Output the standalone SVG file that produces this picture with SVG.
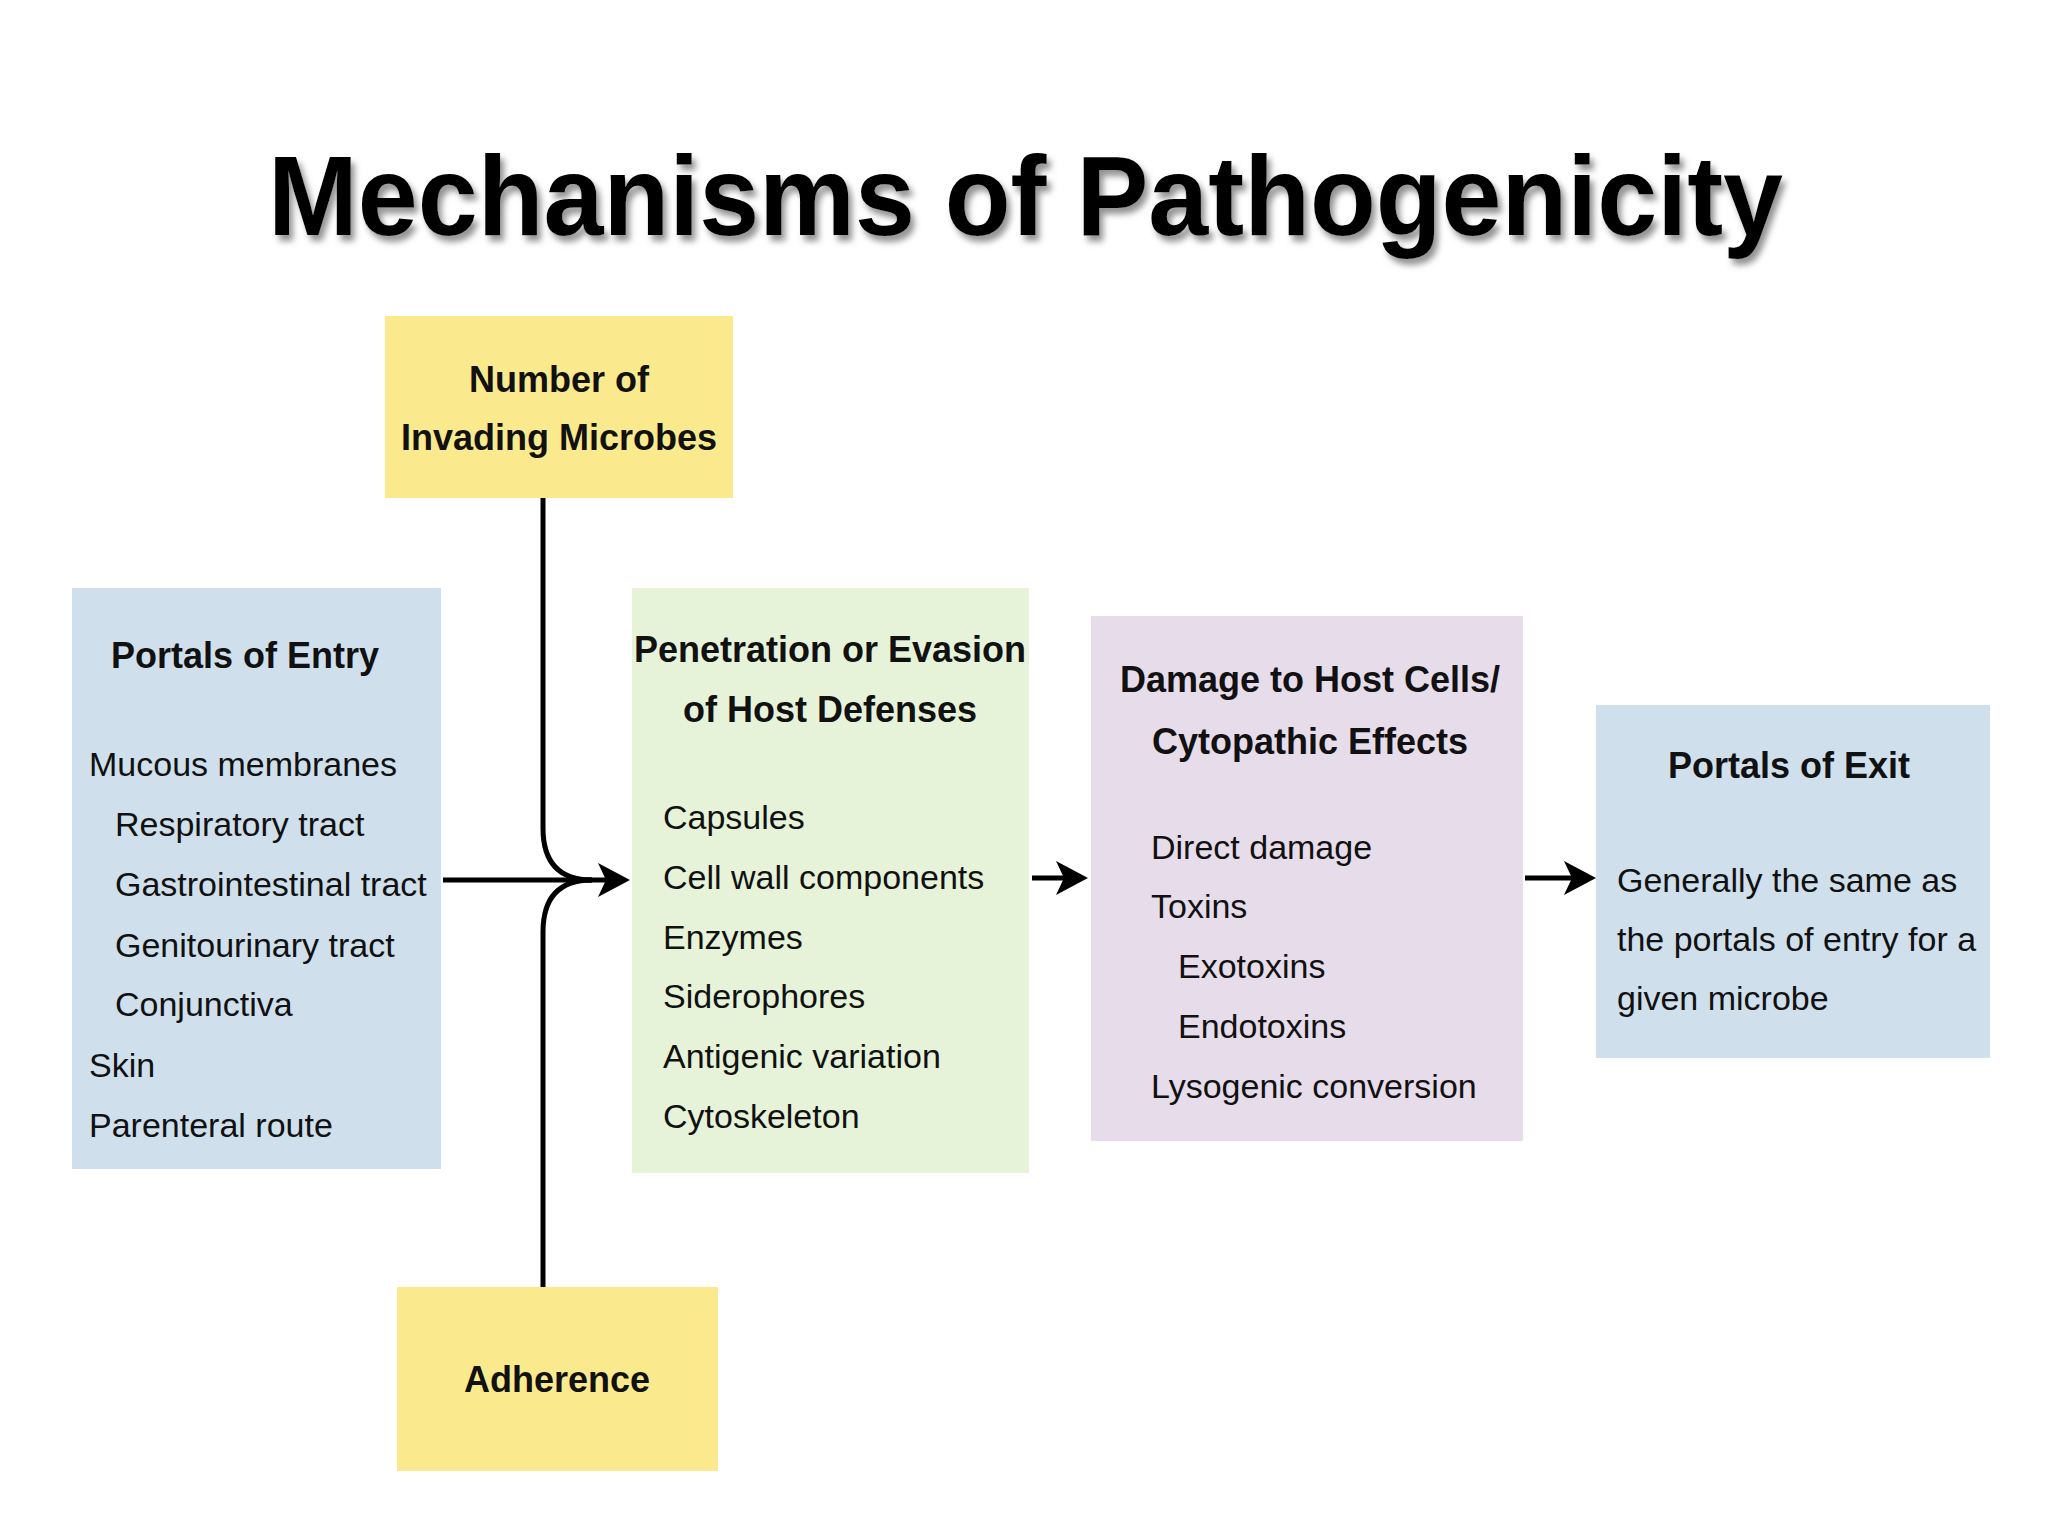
<svg xmlns="http://www.w3.org/2000/svg" width="2048" height="1536" viewBox="0 0 2048 1536">
  <style>
    .title { font-family: "Liberation Sans", Arial, sans-serif; font-weight: bold; font-size: 113px; fill: #000; }
    .hd { font-family: "Liberation Sans", Arial, sans-serif; font-weight: bold; font-size: 36px; fill: #111; text-anchor: middle; }
    .bd { font-family: "Liberation Sans", Arial, sans-serif; font-size: 34px; fill: #111; }
    .conn { fill: none; stroke: #000; stroke-width: 5; }
    .yellow { fill: #fbe98e; }
    .blue { fill: #cfe0ec; }
    .green { fill: #e6f3d9; }
    .purple { fill: #e6dcea; }
  </style>
  <defs>
    <filter id="shadow" x="-5%" y="-20%" width="110%" height="150%">
      <feDropShadow dx="4" dy="6" stdDeviation="3" flood-color="#777" flood-opacity="0.8"/>
    </filter>
    <marker id="arrow" markerUnits="userSpaceOnUse" markerWidth="36" markerHeight="36" refX="22" refY="17" orient="auto">
      <path d="M0,0 L32,17 L0,34 L8,17 Z" fill="#000"/>
    </marker>
  </defs>

  <rect x="0" y="0" width="2048" height="1536" fill="#ffffff"/>

  <text class="title" x="268" y="235" textLength="1515" lengthAdjust="spacingAndGlyphs" filter="url(#shadow)">Mechanisms of Pathogenicity</text>

  <g id="connectors">
    <path class="conn" d="M543,498 L543,828 Q543,880 592,880"/>
    <path class="conn" d="M592,880 Q543,880 543,932 L543,1287"/>
    <path class="conn" d="M443,880 L620,880" stroke-width="6" marker-end="url(#arrow)"/>
    <path class="conn" d="M1032,878 L1078,878" stroke-width="6" marker-end="url(#arrow)"/>
    <path class="conn" d="M1525,878 L1586,878" stroke-width="6" marker-end="url(#arrow)"/>
  </g>

  <g id="number-of-microbes">
    <rect class="yellow" x="385" y="316" width="348" height="182"/>
    <text class="hd" x="559" y="392">Number of</text>
    <text class="hd" x="559" y="450">Invading Microbes</text>
  </g>

  <g id="adherence">
    <rect class="yellow" x="397" y="1287" width="321" height="184"/>
    <text class="hd" x="557" y="1392">Adherence</text>
  </g>

  <g id="portals-of-entry">
    <rect class="blue" x="72" y="588" width="369" height="581"/>
    <text class="hd" x="245" y="668">Portals of Entry</text>
    <text class="bd" x="89" y="776">Mucous membranes</text>
    <text class="bd" x="115" y="836">Respiratory tract</text>
    <text class="bd" x="115" y="896">Gastrointestinal tract</text>
    <text class="bd" x="115" y="957">Genitourinary tract</text>
    <text class="bd" x="115" y="1016">Conjunctiva</text>
    <text class="bd" x="89" y="1077">Skin</text>
    <text class="bd" x="89" y="1137">Parenteral route</text>
  </g>

  <g id="penetration">
    <rect class="green" x="632" y="588" width="397" height="585"/>
    <text class="hd" x="830" y="662">Penetration or Evasion</text>
    <text class="hd" x="830" y="722">of Host Defenses</text>
    <text class="bd" x="663" y="829">Capsules</text>
    <text class="bd" x="663" y="889">Cell wall components</text>
    <text class="bd" x="663" y="949">Enzymes</text>
    <text class="bd" x="663" y="1008">Siderophores</text>
    <text class="bd" x="663" y="1068">Antigenic variation</text>
    <text class="bd" x="663" y="1128">Cytoskeleton</text>
  </g>

  <g id="damage">
    <rect class="purple" x="1091" y="616" width="432" height="525"/>
    <text class="hd" x="1310" y="692">Damage to Host Cells/</text>
    <text class="hd" x="1310" y="754">Cytopathic Effects</text>
    <text class="bd" x="1151" y="859">Direct damage</text>
    <text class="bd" x="1151" y="918">Toxins</text>
    <text class="bd" x="1178" y="978">Exotoxins</text>
    <text class="bd" x="1178" y="1038">Endotoxins</text>
    <text class="bd" x="1151" y="1098">Lysogenic conversion</text>
  </g>

  <g id="portals-of-exit">
    <rect class="blue" x="1596" y="705" width="394" height="353"/>
    <text class="hd" x="1789" y="778">Portals of Exit</text>
    <text class="bd" x="1617" y="892">Generally the same as</text>
    <text class="bd" x="1617" y="951">the portals of entry for a</text>
    <text class="bd" x="1617" y="1010">given microbe</text>
  </g>
</svg>
